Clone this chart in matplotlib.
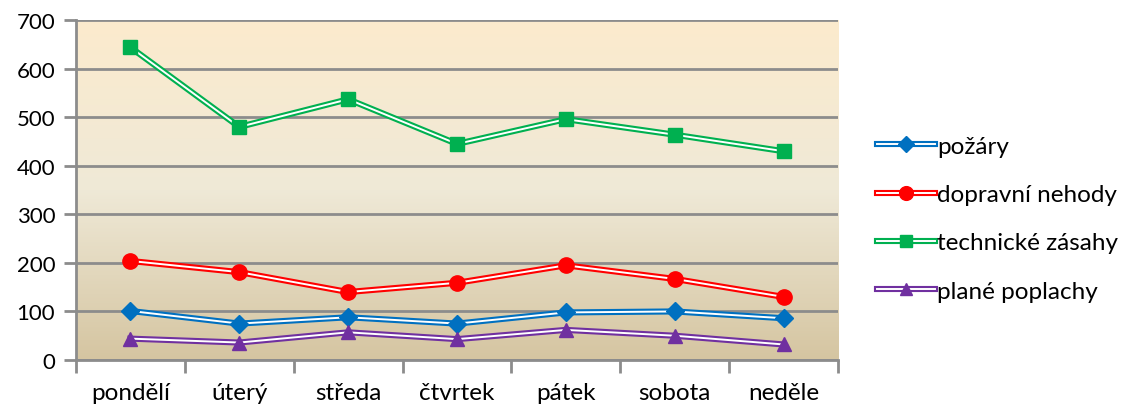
import numpy as np
import matplotlib.pyplot as plt
from matplotlib.colors import LinearSegmentedColormap
from matplotlib.lines import Line2D

plt.rcParams['font.family'] = ['Lato', 'DejaVu Sans']

days = ['pondělí', 'úterý', 'středa', 'čtvrtek', 'pátek', 'sobota', 'neděle']
pozary = [101, 75, 88, 75, 98, 100, 86]
dopravni = [204, 181, 140, 159, 195, 167, 130]
technicke = [644, 480, 537, 445, 496, 464, 430]
plane = [44, 36, 57, 43, 62, 50, 32]

series = [
    ('požáry', pozary, '#0070C0', 'D', 9),
    ('dopravní nehody', dopravni, '#FF0000', 'o', 11),
    ('technické zásahy', technicke, '#00B050', 's', 10),
    ('plané poplachy', plane, '#7030A0', '^', 10),
]

fig = plt.figure(figsize=(11.24, 4.14), dpi=100)
ax = fig.add_axes([0.0676, 0.128, 0.678, 0.821])

# background gradient
cmap = LinearSegmentedColormap.from_list('bg', ['#D5C5A1', '#EFE9D7', '#FCEBCD'])
grad = np.linspace(0, 1, 256).reshape(-1, 1)
ax.imshow(grad, cmap=cmap, aspect='auto', extent=[0, 1, 0, 1],
          transform=ax.transAxes, origin='lower', zorder=0)

x = np.arange(len(days))
handles = []
for name, vals, col, mk, ms in series:
    ax.plot(x, vals, color=col, lw=4.4, zorder=3, solid_joinstyle='miter')
    ax.plot(x, vals, color='white', lw=1.4, zorder=4)
    ax.plot(x, vals, ls='none', marker=mk, ms=ms, color=col, zorder=5)
    h = (Line2D([], [], color=col, lw=4.4),
         Line2D([], [], color='white', lw=1.4),
         Line2D([], [], ls='none', marker=mk, ms=ms * 0.9, color=col))
    handles.append(h)

ax.set_xlim(-0.5, 6.5)
ax.set_ylim(0, 700)
ax.set_yticks(range(0, 701, 100))
ax.set_xticks(x)
ax.set_xticklabels(days)
ax.set_xticks(np.arange(-0.5, 7, 1), minor=True)
ax.tick_params(axis='x', which='major', length=0, pad=16, labelsize=17.5)
ax.tick_params(axis='x', which='minor', length=9, width=2, color='#8C8C8C')
ax.tick_params(axis='y', length=9, width=2, color='#8C8C8C', labelsize=16, pad=6)
ax.grid(axis='y', color='#8C8C8C', lw=2, zorder=1)
ax.set_axisbelow(True)
for s in ['top', 'right']:
    ax.spines[s].set_visible(False)
for s in ['left', 'bottom']:
    ax.spines[s].set_color('#8C8C8C')
    ax.spines[s].set_linewidth(2)

fig.legend(handles, [s[0] for s in series], loc='center left',
           bbox_to_anchor=(0.780, 0.469), frameon=False, fontsize=17.5,
           handlelength=2.4, handletextpad=0.1, labelspacing=1.12,
           borderaxespad=0, borderpad=0)

fig.savefig('out.png', dpi=100)
